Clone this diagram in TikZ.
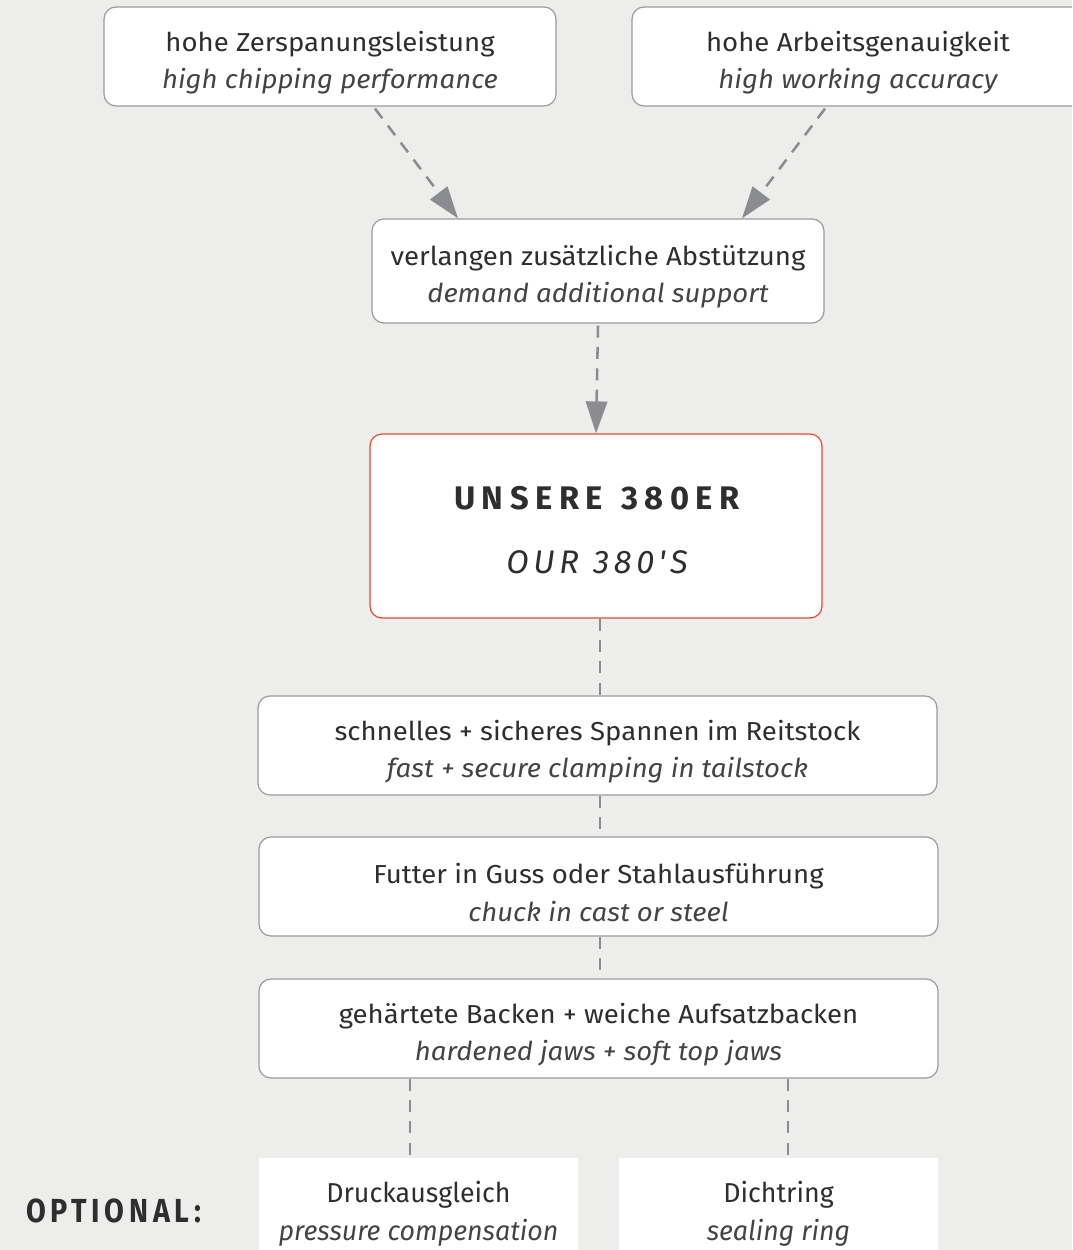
\documentclass[tikz,border=0pt]{standalone}
\usepackage{fontspec}
\setmainfont[FakeStretch=1.06]{Fira Sans}
\newfontfamily\spacedfont[LetterSpace=20]{Fira Sans}
\newfontfamily\spacedfontit[LetterSpace=14]{Fira Sans}
\newfontfamily\condfont[FakeStretch=0.98]{Fira Sans}
\newfontfamily\condspacedfont[FakeStretch=0.86,LetterSpace=14]{Fira Sans}
\usetikzlibrary{arrows.meta,calc}
\definecolor{bgc}{HTML}{EDEEEB}
\definecolor{boxline}{HTML}{9B9B9B}
\definecolor{redline}{HTML}{E8482E}
\definecolor{txt}{HTML}{2E2E2E}
\definecolor{txtit}{HTML}{444444}
\definecolor{conn}{HTML}{8B8C8F}
\tikzset{
  box/.style={draw=boxline, line width=0.9pt, fill=white, rounded corners=9pt,
    inner sep=0pt, align=center, text=txt, font=\fontsize{19.5}{28}\selectfont,
    minimum height=99*0.75pt},
  redbox/.style={box, draw=redline, minimum height=184*0.75pt, minimum width=452*0.75pt},
  optbox/.style={fill=white, inner sep=0pt, align=center, text=txt,
    font=\condfont\fontsize{20.5}{28.5}\selectfont,
    minimum width=319*0.75pt, minimum height=112*0.75pt},
  conline/.style={draw=conn, line width=1.9pt, dash pattern=on 9pt off 7pt},
  conarrow/.style={conline, -{Triangle[length=24pt,width=16pt]}},
}
\newcommand{\en}[1]{{\itshape\color{txtit}#1}}
\newcommand{\dn}{\rule{0pt}{24pt}}
\begin{document}
\begin{tikzpicture}[x=0.75pt,y=-0.75pt]
\useasboundingbox (0,0) rectangle (1072,1250);
\fill[bgc] (0,0) rectangle (1072,1250);
\begin{scope}
\clip (0,0) rectangle (1072,1250);
\node[box, minimum width=452*0.75pt] (A) at (330,56.5) {\dn hohe Zerspanungsleistung\\\en{high chipping performance}};
\node[box, minimum width=452*0.75pt] (B) at (858,56.5) {\dn hohe Arbeitsgenauigkeit\\\en{high working accuracy}};
\node[box, minimum width=452*0.75pt, minimum height=104*0.75pt] (C) at (598,271) {\dn verlangen zusätzliche Abstützung\\\en{demand additional support}};
\node[redbox] (R) at (596,526) {};
\node[text=txt, font=\spacedfont\bfseries\fontsize{24.5}{30}\selectfont] (R1) at (597,498) {UNSERE \hspace{3pt}380ER};
\node[text=txt, font=\spacedfontit\itshape\fontsize{24.5}{30}\selectfont] (R2) at (597,562) {OUR \hspace{1pt}380'S};
\node[box, minimum width=679*0.75pt] (D) at (597.5,745.5) {\dn schnelles + sicheres Spannen im Reitstock\\\en{fast + secure clamping in tailstock}};
\node[box, minimum width=679*0.75pt] (E) at (598.5,886.5) {\dn Futter in Guss oder Stahlausführung\\\en{chuck in cast or steel}};
\node[box, minimum width=679*0.75pt] (F) at (598.5,1028.5) {\dn gehärtete Backen + weiche Aufsatzbacken\\\en{hardened jaws + soft top jaws}};
\node[optbox] (G) at (418.5,1214) {Druckausgleich\\\en{pressure compensation}};
\node[optbox] (H) at (778.5,1214) {Dichtring\\\en{sealing ring}};
\node[text=txt, font=\condspacedfont\bfseries\fontsize{25}{28}\selectfont] (O) at (113.5,1211) {OPTIONAL:};
\end{scope}
% connectors
\draw[conarrow] ([xshift=45*0.75pt,yshift=-1.5pt]A.south) -- ([xshift=-140*0.75pt]C.north);
\draw[conarrow] ([xshift=-33*0.75pt,yshift=-1.5pt]B.south) -- ([xshift=144*0.75pt]C.north);
\draw[conarrow] ([yshift=-1.5pt]C.south) -- (R.north);
\draw[conline] ([xshift=4*0.75pt]R.south) -- ([xshift=2.5*0.75pt]D.north);
\draw[conline] ([xshift=2.5*0.75pt]D.south) -- ([xshift=1.5*0.75pt]E.north);
\draw[conline] ([xshift=1.5*0.75pt]E.south) -- ([xshift=1.5*0.75pt]F.north);
\draw[conline] ([xshift=-188.5*0.75pt]F.south) -- ([xshift=-8.5*0.75pt]G.north);
\draw[conline] ([xshift=189.5*0.75pt]F.south) -- ([xshift=9.5*0.75pt]H.north);
\end{tikzpicture}
\end{document}
